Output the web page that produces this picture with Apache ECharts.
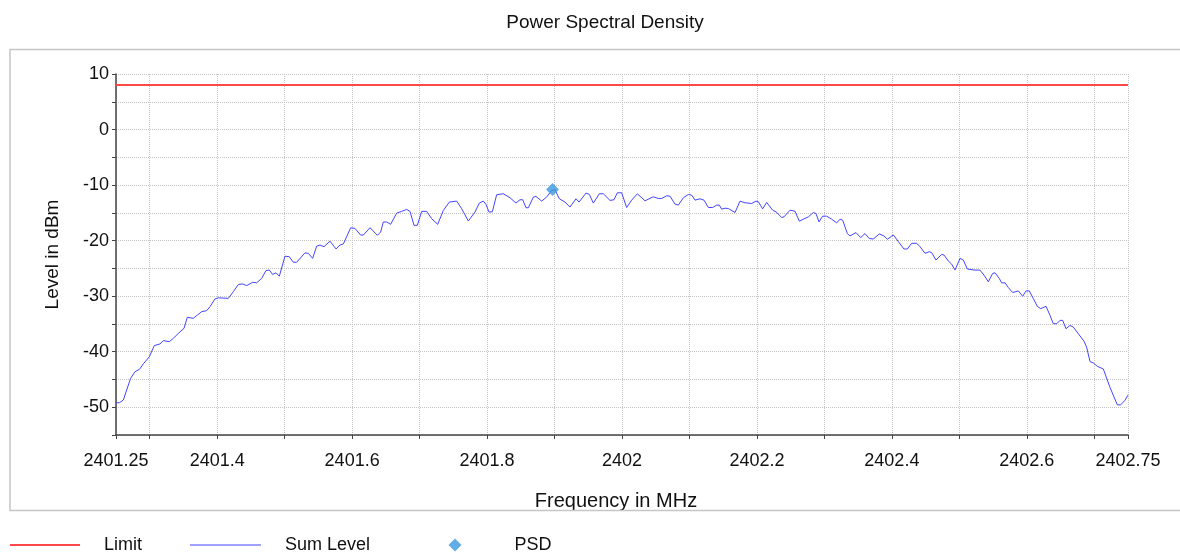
<!DOCTYPE html>
<html>
<head>
<meta charset="utf-8">
<title>Power Spectral Density</title>
<script src="https://cdn.jsdelivr.net/npm/echarts@6/dist/echarts.min.js"></script>
<style>
  html, body { margin: 0; padding: 0; background: #fff; }
  #chart { width: 1180px; height: 555px; }
</style>
</head>
<body>
<div id="chart"></div>
<script>
// frequency points of the Sum Level trace (MHz)
var freqMHz = [
  2401.25, 2401.2549, 2401.2609, 2401.2658, 2401.2717, 2401.2782, 2401.2846, 2401.2905, 2401.2994, 2401.3068,
  2401.3152, 2401.3202, 2401.3290, 2401.3350, 2401.3424, 2401.3508, 2401.3557, 2401.3646, 2401.3705, 2401.3770,
  2401.3844, 2401.3893, 2401.3967, 2401.4017, 2401.4165, 2401.4239, 2401.4313, 2401.4377, 2401.4437, 2401.4526,
  2401.4585, 2401.4659, 2401.4723, 2401.4773, 2401.4822, 2401.4872, 2401.4921, 2401.5005, 2401.5069, 2401.5128,
  2401.5178, 2401.5301, 2401.5351, 2401.5415, 2401.5474, 2401.5524, 2401.5583, 2401.5672, 2401.5761, 2401.5820,
  2401.5870, 2401.5978, 2401.6042, 2401.6126, 2401.6166, 2401.6265, 2401.6374, 2401.6423, 2401.6462, 2401.6512,
  2401.6571, 2401.6660, 2401.6734, 2401.6808, 2401.6858, 2401.6917, 2401.6966, 2401.7031, 2401.7105, 2401.7179,
  2401.7268, 2401.7352, 2401.7441, 2401.7549, 2401.7624, 2401.7722, 2401.7821, 2401.7885, 2401.7945, 2401.7984,
  2401.8029, 2401.8078, 2401.8142, 2401.8241, 2401.8340, 2401.8429, 2401.8488, 2401.8528, 2401.8577, 2401.8612,
  2401.8686, 2401.8725, 2401.8809, 2401.8883, 2401.8958, 2401.9007, 2401.9071, 2401.9155, 2401.9229, 2401.9318,
  2401.9363, 2401.9466, 2401.9516, 2401.9575, 2401.9664, 2401.9723, 2401.9822, 2401.9881, 2401.9931, 2401.9995,
  2402.0069, 2402.0143, 2402.0227, 2402.0341, 2402.0464, 2402.0538, 2402.0588, 2402.0662, 2402.0711, 2402.0786,
  2402.0835, 2402.0909, 2402.0983, 2402.1033, 2402.1082, 2402.1156, 2402.1215, 2402.1280, 2402.1344, 2402.1403,
  2402.1443, 2402.1477, 2402.1527, 2402.1576, 2402.1675, 2402.1749, 2402.1823, 2402.1922, 2402.1986, 2402.2021,
  2402.2085, 2402.2144, 2402.2169, 2402.2233, 2402.2283, 2402.2367, 2402.2401, 2402.2490, 2402.2564, 2402.2628,
  2402.2688, 2402.2762, 2402.2836, 2402.2875, 2402.2920, 2402.2974, 2402.3033, 2402.3108, 2402.3182, 2402.3231,
  2402.3271, 2402.3340, 2402.3379, 2402.3468, 2402.3538, 2402.3602, 2402.3666, 2402.3725, 2402.3814, 2402.3883,
  2402.3933, 2402.4022, 2402.4096, 2402.4180, 2402.4229, 2402.4293, 2402.4368, 2402.4417, 2402.4491, 2402.4555,
  2402.4590, 2402.4654, 2402.4738, 2402.4773, 2402.4837, 2402.4886, 2402.4936, 2402.5010, 2402.5059, 2402.5119,
  2402.5232, 2402.5306, 2402.5366, 2402.5430, 2402.5494, 2402.5529, 2402.5593, 2402.5627, 2402.5677, 2402.5726,
  2402.5791, 2402.5874, 2402.5939, 2402.5988, 2402.6037, 2402.6097, 2402.6156, 2402.6206, 2402.6285, 2402.6344,
  2402.6393, 2402.6443, 2402.6492, 2402.6532, 2402.6581, 2402.6640, 2402.6690, 2402.6764, 2402.6848, 2402.6887,
  2402.6937, 2402.6986, 2402.7045, 2402.7134, 2402.7233, 2402.7342, 2402.7391, 2402.7456, 2402.75
];

// Sum Level values (dBm)
var sumLevel = [
  -49.2, -49.2, -48.7, -46.9, -44.8, -43.6, -43.2, -42.2, -40.9, -38.9,
  -38.6, -38.0, -38.2, -37.6, -36.7, -35.8, -33.8, -34.0, -33.4, -32.8,
  -32.6, -31.9, -30.5, -30.3, -30.4, -29.2, -27.9, -27.8, -28.1, -27.5,
  -27.6, -26.8, -25.4, -25.3, -26.1, -25.8, -26.4, -22.8, -22.9, -23.9,
  -23.9, -22.2, -22.3, -23.2, -21.0, -20.8, -21.1, -20.1, -21.5, -20.8,
  -20.6, -17.7, -17.8, -19.0, -19.0, -17.67, -19.05, -18.45, -16.65, -16.65,
  -17.07, -15.04, -14.74, -14.38, -14.74, -17.25, -17.25, -14.74, -14.74, -16.06,
  -17.07, -14.56, -13.06, -12.88, -14.26, -16.47, -14.86, -13.24, -12.88, -13.48,
  -14.86, -14.8, -11.74, -11.56, -12.28, -13.24, -12.64, -12.64, -14.08, -14.08,
  -12.16, -12.04, -12.88, -12.16, -10.96, -10.84, -12.46, -13.06, -13.96, -12.46,
  -13.06, -11.44, -11.68, -13.24, -11.56, -11.56, -12.76, -12.64, -11.39, -11.39,
  -14.04, -12.71, -11.57, -12.83, -12.11, -12.41, -12.41, -11.93, -11.99, -13.43,
  -13.61, -12.29, -11.69, -11.81, -12.71, -12.47, -12.71, -14.04, -14.04, -13.61,
  -13.61, -14.34, -14.16, -14.22, -14.94, -12.89, -13.19, -13.31, -12.89, -13.01,
  -14.28, -13.13, -13.19, -14.52, -14.82, -15.84, -15.72, -14.52, -14.70, -16.51,
  -16.14, -15.72, -14.94, -15.12, -16.63, -15.60, -15.60, -16.14, -16.81, -16.14,
  -16.33, -18.73, -19.16, -18.55, -19.46, -18.73, -19.64, -19.70, -18.80, -19.16,
  -19.76, -18.97, -20.18, -21.51, -21.51, -20.48, -20.48, -21.09, -22.29, -21.99,
  -22.17, -23.50, -22.47, -22.60, -23.68, -24.22, -25.31, -23.20, -23.50, -25.13,
  -25.31, -25.31, -26.22, -27.42, -25.91, -25.79, -26.82, -27.60, -27.60, -28.45,
  -29.35, -29.05, -30.02, -29.05, -29.05, -30.44, -31.83, -32.25, -31.83, -33.46,
  -34.97, -34.97, -34.36, -34.36, -35.87, -35.27, -35.57, -36.78, -38.11, -39.19,
  -41.79, -42.03, -42.63, -43.11, -46.43, -49.57, -49.57, -48.73, -47.82
];

var limitFreq = [2401.25, 2402.75];
var limitLevel = [8, 8];

var psdFreq = [2401.897];
var psdLevel = [-10.8];

var xTickValues = [2401.25, 2401.3, 2401.4, 2401.5, 2401.6, 2401.7, 2401.8, 2401.9, 2402, 2402.1,
  2402.2, 2402.3, 2402.4, 2402.5, 2402.6, 2402.7, 2402.75];
var xLabelValues = [2401.25, 2401.4, 2401.6, 2401.8, 2402, 2402.2, 2402.4, 2402.6, 2402.75];

var limitColor = '#ff4848';
var sumColor = '#4444ff';
var psdColor = '#3c98de';

function zip (xs, ys) {
  var out = [];
  for (var i = 0; i < xs.length; i++) {
    out.push([xs[i], ys[i]]);
  }
  return out;
}

var font = 'Liberation Sans, Arial, sans-serif';
function legendText (padLeft) {
  return { fontFamily: font, fontSize: 18, lineHeight: 20, color: '#111', padding: [6, 0, 0, padLeft] };
}

var chart = echarts.init(document.getElementById('chart'));

var option = {
  animation: false,
  title: {
    text: 'Power Spectral Density',
    left: 600,
    top: 8,
    textAlign: 'center',
    textStyle: { fontFamily: font, fontSize: 19, fontWeight: 'normal', color: '#111' }
  },
  graphic: [
    // the frame cuts off the bottom of the axis name, like in the original
    { type: 'rect', z: 100, shape: { x: 11, y: 511, width: 1168, height: 18 }, style: { fill: '#fff' } },
    { type: 'rect', z: 101, shape: { x: 10, y: 49.5, width: 1172, height: 461 },
      style: { fill: 'none', stroke: '#c6c6c6', lineWidth: 1.5 } }
  ],
  // one legend per entry so each keeps its own icon size
  legend: [
    {
      left: 10, top: 532, padding: 0, itemWidth: 70, itemHeight: 2, icon: 'rect',
      itemStyle: { color: limitColor },
      textStyle: legendText(19),
      data: ['Limit']
    },
    {
      left: 190, top: 532, padding: 0, itemWidth: 71, itemHeight: 1, icon: 'rect',
      itemStyle: { color: sumColor },
      textStyle: legendText(19),
      data: ['Sum Level']
    },
    {
      left: 448.5, top: 532, padding: 0, itemWidth: 13, itemHeight: 13, icon: 'diamond',
      itemStyle: { color: psdColor },
      textStyle: legendText(48),
      data: ['PSD']
    }
  ],
  grid: {
    left: 116,
    right: 52,
    top: 74,
    bottom: 120
  },
  xAxis: {
    type: 'value',
    min: 2401.25,
    max: 2402.75,
    name: 'Frequency in MHz',
    nameLocation: 'middle',
    nameGap: 56,
    nameTextStyle: { fontFamily: font, fontSize: 20, color: '#111', padding: [0, 12, 0, 0] },
    axisLine: { onZero: false, lineStyle: { color: '#444', width: 1.5 } },
    axisTick: { customValues: xTickValues, length: 4, lineStyle: { color: '#444' } },
    axisLabel: {
      customValues: xLabelValues,
      margin: 17,
      fontFamily: font,
      fontSize: 18,
      color: '#111',
      formatter: function (v) {
        return String(v);
      }
    },
    splitLine: { show: true, lineStyle: { color: '#c4c4c4', type: 'dotted', width: 1 } }
  },
  yAxis: {
    type: 'value',
    min: -55,
    max: 10,
    interval: 5,
    name: 'Level in dBm',
    nameLocation: 'middle',
    nameGap: 54,
    nameTextStyle: { fontFamily: font, fontSize: 19, color: '#111' },
    axisLine: { show: true, onZero: false, lineStyle: { color: '#444', width: 1.5 } },
    axisTick: { show: true, length: 4, lineStyle: { color: '#444' } },
    axisLabel: {
      margin: 7,
      fontFamily: font,
      fontSize: 18,
      color: '#111',
      formatter: function (v) {
        return v % 10 === 0 ? String(v) : '';
      }
    },
    splitLine: { show: true, lineStyle: { color: '#c4c4c4', type: 'dotted', width: 1 } }
  },
  series: [
    {
      name: 'Limit',
      type: 'line',
      symbol: 'none',
      lineStyle: { color: limitColor, width: 2 },
      itemStyle: { color: limitColor },
      data: zip(limitFreq, limitLevel),
      z: 3
    },
    {
      name: 'Sum Level',
      type: 'line',
      symbol: 'none',
      lineStyle: { color: sumColor, width: 1 },
      itemStyle: { color: sumColor },
      data: zip(freqMHz, sumLevel),
      z: 2
    },
    {
      name: 'PSD',
      type: 'scatter',
      symbol: 'diamond',
      symbolSize: 13,
      itemStyle: { color: psdColor },
      data: zip(psdFreq, psdLevel),
      z: 4
    }
  ]
};

chart.setOption(option);
</script>
</body>
</html>
